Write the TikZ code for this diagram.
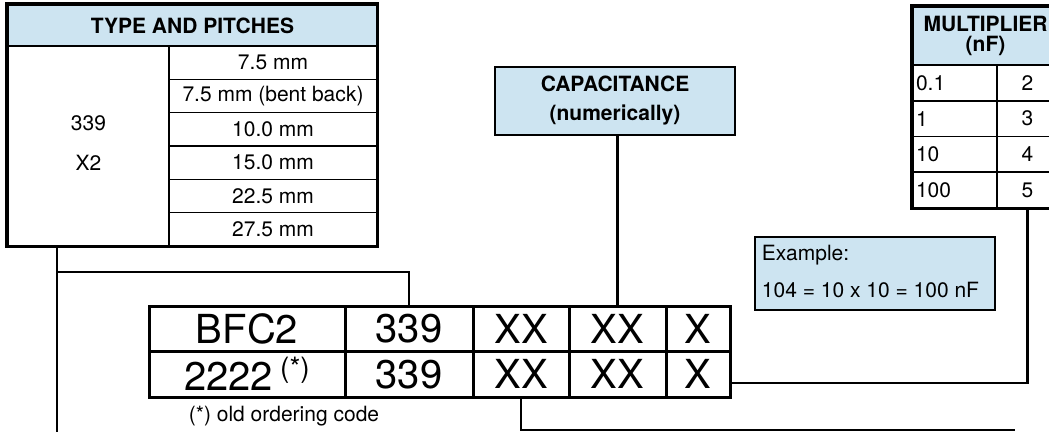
\documentclass[tikz,border=0pt]{standalone}
\usepackage{fontspec}
\setmainfont{TeX Gyre Heros}
\definecolor{headblue}{RGB}{205,228,241}

\begin{document}
\begin{tikzpicture}[x=1pt,y=-1pt,
  cell/.style={draw,line width=1.6pt,inner sep=0pt,font=\fontsize{21}{23}\selectfont},
  head cell/.style={cell,line width=2.6pt,fill=headblue,align=center,font=\fontsize{21}{29}\selectfont\bfseries},
  code cell/.style={draw,line width=3pt,inner sep=0pt,minimum height=45.5pt,font=\fontsize{40}{40}\selectfont},
  link/.style={draw,line width=2.2pt}]
\useasboundingbox (0,0) rectangle (1049,432);

% type and pitches
\node[head cell,minimum width=369pt,minimum height=41pt] (typehead) at (192.5,25.5) {TYPE AND PITCHES};
\node[cell,minimum width=161pt,minimum height=200pt] (typeleft) at (88.5,146) {};
\node[align=center,inner sep=0pt,font=\fontsize{21}{40}\selectfont] (typecode) at (88.5,143) {339\\X2};
\foreach \p [count=\i] in {7.5 mm,7.5 mm (bent back),10.0 mm,15.0 mm,22.5 mm,27.5 mm}
  \node[cell,minimum width=208pt,minimum height=33.33pt] (pitch\i) at (273,{46+33.33*(\i-0.5)}) {\p};
\draw[line width=2.6pt] (typehead.north west) rectangle (pitch6.south east);

% capacitance
\node[head cell,minimum width=240pt,minimum height=68pt] (cap) at (615,101) {CAPACITANCE\\(numerically)};

% multiplier
\node[head cell,minimum width=145pt,minimum height=58pt,font=\fontsize{21}{20}\selectfont\bfseries] (mhead) at (985.5,36) {MULTIPLIER\\(nF)};
\foreach \v/\m [count=\i] in {0.1/2,1/3,10/4,100/5} {
  \node[cell,text width=78pt,minimum height=35.75pt,inner xsep=3pt,align=left] (mval\i) at (955,{65+35.75*(\i-0.5)}) {\v};
  \node[cell,minimum width=61pt,minimum height=35.75pt] (m\m) at (1027.5,{65+35.75*(\i-0.5)}) {\m};
}
\draw[line width=2.6pt] (mhead.north west) rectangle (m5.south east);

% example
\node[draw,line width=2.6pt,fill=headblue,minimum width=240pt,minimum height=73pt] (example) at (875,273.5) {};
\node[anchor=west,inner sep=0pt,align=left,font=\fontsize{21}{37}\selectfont] (extext) at ([xshift=8pt,yshift=2pt]example.west) {Example:\\104 = 10 x 10 = 100 nF};

% ordering code
\foreach \txt/\cx/\w [count=\i] in {BFC2/247/196,339/409/128,XX/521/96,XX/617.5/97,X/698/64}
  \node[code cell,minimum width=\w pt] (top\i) at (\cx,328.75) {\txt};
\foreach \txt/\cx/\w [count=\i] in {{2222\hspace{7pt}\raisebox{13pt}{\fontsize{28}{28}\selectfont(*)}}/247/196,339/409/128,XX/521/96,XX/617.5/97,X/698/64}
  \node[code cell,minimum width=\w pt] (bot\i) at (\cx,374.25) {\txt};
\node[font=\fontsize{21}{23}\selectfont] (oldnote) at (284,416) {(*) old ordering code};

% connectors
\coordinate (typeend) at (57,432);
\coordinate (branch) at (57,272);
\coordinate (pitchend) at (1015,430);
\draw[link] (typeleft.south -| typeend) -- (typeend);
\draw[link] (branch) -| (top2.north);
\draw[link] (top4.north |- cap.south) -- (top4.north);
\draw[link] (m5.south) |- ([yshift=-8.5pt]bot5.east);
\draw[link] (bot3.south) |- (pitchend);
\end{tikzpicture}
\end{document}
